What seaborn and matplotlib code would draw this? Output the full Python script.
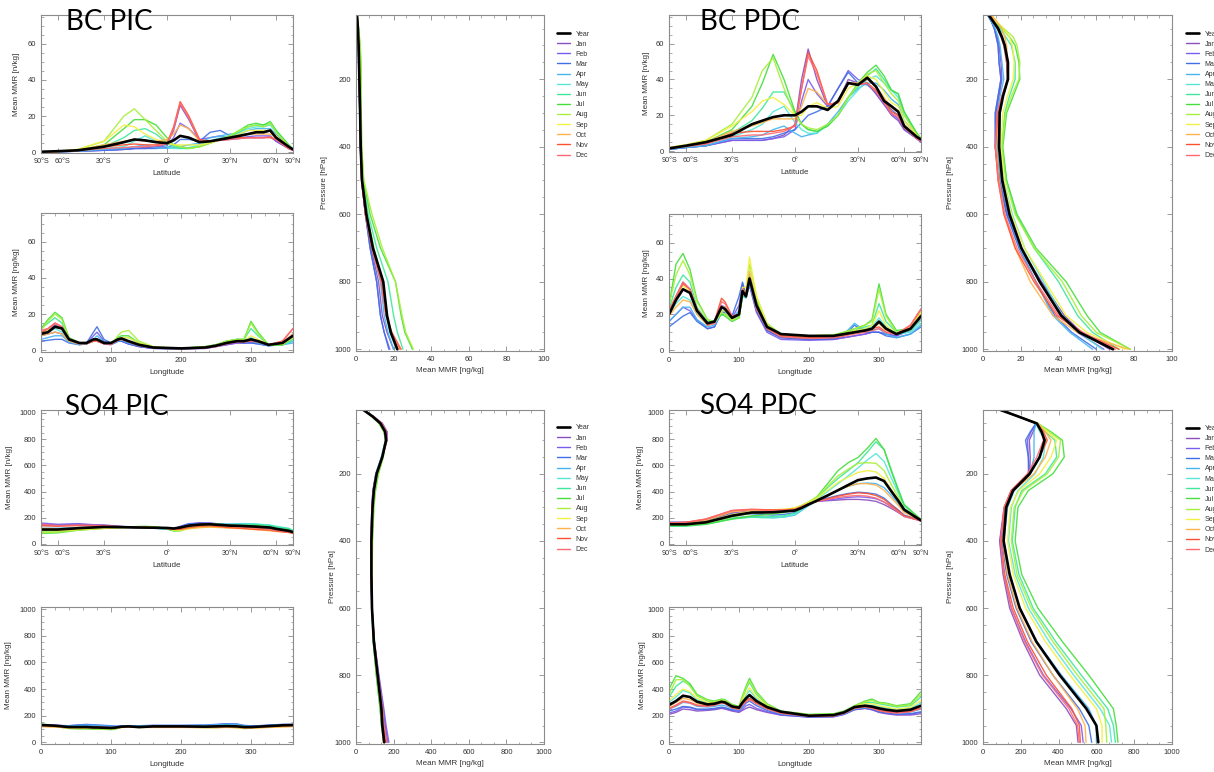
import numpy as np
import pandas as pd
import matplotlib
matplotlib.use("Agg")
import matplotlib.pyplot as plt
import seaborn as sns
from matplotlib.lines import Line2D
from matplotlib.ticker import MultipleLocator, FixedLocator, NullLocator
from matplotlib.transforms import ScaledTranslation

sns.set_theme(style="ticks")
plt.rcParams["font.family"] = ["Liberation Sans", "DejaVu Sans"]

MONTHS = ["Jan", "Feb", "Mar", "Apr", "May", "Jun", "Jul", "Aug", "Sep", "Oct", "Nov", "Dec"]
SERIES = ["Year"] + MONTHS
PALETTE = {"Jan": "#8a4fbf", "Feb": "#7a5cf0", "Mar": "#3f6fe6", "Apr": "#45b4f2",
           "May": "#55e6d8", "Jun": "#3ee89a", "Jul": "#45de3c", "Aug": "#a8ef3a",
           "Sep": "#f2f040", "Oct": "#ffb24a", "Nov": "#ff4f2e", "Dec": "#ff6a72"}

LAT = [-90, -60, -45, -30, -20, -15, -10, -5, 0, 3, 6, 10, 15, 20, 25, 30, 35, 40, 45, 50, 55, 60, 75, 90]
LON = [0, 10, 20, 30, 40, 55, 65, 75, 80, 90, 100, 105, 110, 115, 125, 140, 160, 200, 235, 250, 265, 280, 290, 300, 310, 325, 345, 360]
PRES = [10, 30, 50, 75, 100, 150, 200, 250, 300, 400, 500, 600, 700, 800, 900, 950, 1000]
LAT_TICKS = [-90, -60, -30, 0, 30, 60, 90]
LAT_LABELS = ["90°S", "60°S", "30°S", "0°", "30°N", "60°N", "90°N"]

# ---------------- BC PIC ----------------
bc_pic_lat = {
    "Year": [0.2,0.5,1,3,5.5,7,6.5,5.5,5,6.5,9,8,5.5,6,7,8,9,10,11,11,12,8,3,1.5],
    "Jan": [0,0.2,0.5,1,1.5,2,2.5,3,4,12,26,18,6,6,6.5,7,7.5,8,8,8,8.5,6,2,1],
    "Feb": [0,0.2,0.5,1,1.5,2,2,2.5,3.5,8,16,13,7,8,9,8,8,8.5,9,9,9,6,2,1],
    "Mar": [0,0.2,0.5,1,1.5,2,2,2,2.5,4,7,7,6,11,12,9,9,10,11,11,12,8,2.5,1],
    "Apr": [0,0.2,0.5,1.5,2,3,4,2.5,2,2.5,3,4,5,8,9,10,10,12,13,13,13,10,3,1.5],
    "May": [0,0.3,0.7,2,3,6,9,6,3,2,2,2.5,4,6,8,9,11,13,14,14,15,11,3.5,1.5],
    "Jun": [0,0.3,1,3,8,12,13,10,5,3,2,2,3,5,7,9,11,14,15,15,16,12,4,1.5],
    "Jul": [0,0.3,1,4,13,18,18,15,8,4,3,2,3,5,7,9,12,15,16,15,17,12,4,1.5],
    "Aug": [0,0.4,1.5,6,20,24,18,12,6,4,3,2,3,5,7,9,12,14,15,14,16,11,3.5,1.5],
    "Sep": [0,0.4,1.5,6,15,14,10,7,5,4,4,4,4,5,7,8,10,12,12,12,12,9,3,1.5],
    "Oct": [0,0.4,1,4,6,7,6,6,7,10,15,13,6,6,7,8,9,10,10,10,10,8,2.5,1.5],
    "Nov": [0,0.3,1,3,4,4.5,4,4,5,14,28,20,7,6,7,8,8,8,8,8,8,7,2,1],
    "Dec": [0,0.3,0.8,2,2.5,3,3,3.5,4.5,13,27,19,6,6,6.5,7,7.5,8,8,8,8.5,7,2,1],
}
bc_pic_lon = {
    "Year": [9,10,13,12,6,4,4,6,6,4,4,5,6,6.5,5,3,1.5,1,1.5,2.5,4,5,5,6,5,3,4,8],
    "Jan": [10,11,14,12,5,3.5,3.5,5,5,3.5,3,4,5,5,3.5,2,1,0.8,1,2,3,4,4,4.5,4,2.5,4,9],
    "Feb": [8,9,10,9,5,3.5,3.5,8,10,5,3.5,4,5,5,3.5,2,1,0.8,1,2,3,4,4,4,3.5,2.5,3.5,7],
    "Mar": [5,5.5,6,6,4,3,4,10,13,6,4,4.5,5,5,3.5,2,1,0.8,1.2,2.5,4,4.5,4,4,3.5,2.5,3,5],
    "Apr": [6,7,8,8,4.5,3,3.5,6,8,4.5,3.5,4,5,5.5,4,2.5,1.2,0.8,1.5,3,4,5,4.5,5,4,2.5,3,4],
    "May": [8,10,12,10,5,3.5,3.5,5,6,4,3.5,4.5,5.5,6,5,3,1.5,1,1.5,3,4.5,6,5.5,7,5,3,3,5],
    "Jun": [12,15,18,15,6,4,4,5,5.5,4,4,5,6,7,7,4,1.5,1,2,3,5,6,6,12,8,3,3,6],
    "Jul": [12,17,21,18,7,4,4,5,5,4,4,5,7,8,8,4,1.5,1,2,3,5,6,6,16,10,3,3,7],
    "Aug": [11,16,20,17,6.5,4,4,5,5,4,4,5.5,8,10,11,5,2,1,2,3,5,6,6,15,9,3,3,7],
    "Sep": [9,11,13,12,6,4,4,5,5,4,4,5,6,7,7,4,1.5,1,1.5,2.5,4,5,5,8,6,3,3.5,7],
    "Oct": [8,9,10,9,5,3.5,4,5,5,4,3.5,4.5,5.5,6,5,3,1.5,1,1.5,2.5,4,5,5,6,5,3,4,9],
    "Nov": [10,12,15,13,6,4,4,5,5,4,3.5,4.5,6,6.5,5,3,1.5,1,1.5,2.5,4,5,5,6,5,3,5,12],
    "Dec": [11,12,15,13,5.5,3.5,3.5,5,5,3.5,3.5,4.5,5.5,6,4.5,2.5,1.2,0.8,1.2,2,3.5,4.5,4.5,5,4.5,3,5,12],
}
bc_pic_pres = {
    "Year": [0.5,0.8,1,1.2,1.4,1.6,1.8,2,2.2,2.5,3.2,5.5,9,14.5,16.5,18.5,22],
    "Jan": [0.4,0.7,0.9,1.1,1.3,1.5,1.7,1.9,2,2.4,3,5,8,12,14,16.5,20],
    "Feb": [0.4,0.6,0.8,1,1.2,1.4,1.6,1.8,2,2.3,3,5,7.5,11,13,15,18],
    "Mar": [0.4,0.6,0.8,1,1.2,1.4,1.6,1.8,2,2.3,3,5,7.5,11,13,15,17.5],
    "Apr": [0.5,0.7,0.9,1.1,1.3,1.5,1.7,1.9,2.1,2.4,3.1,5.2,8.5,13,15,17,20],
    "May": [0.5,0.8,1,1.3,1.5,1.8,2,2.2,2.3,2.6,3.3,5.8,9.5,14,16,18,21.5],
    "Jun": [0.6,0.9,1.2,1.5,1.8,2.2,2.4,2.5,2.6,2.8,3.6,6.5,11,17,20,22,25],
    "Jul": [0.7,1,1.4,1.8,2.2,2.6,2.8,2.8,2.8,3,4,7.5,13,21,24,26,30],
    "Aug": [0.7,1,1.4,1.8,2.2,2.6,2.8,2.8,2.8,3,4.2,8.5,14,21,24.5,26.5,30.5],
    "Sep": [0.6,0.9,1.1,1.4,1.6,1.9,2.1,2.2,2.3,2.6,3.3,5.6,9.5,14,16.5,19,23],
    "Oct": [0.5,0.8,1,1.2,1.4,1.6,1.8,2,2.2,2.5,3.1,5.2,8.5,13.5,16,19,23.5],
    "Nov": [0.4,0.7,0.9,1.1,1.3,1.5,1.7,1.9,2,2.4,3,5,8.5,13.5,16,19,24],
    "Dec": [0.4,0.7,0.9,1.1,1.3,1.5,1.7,1.9,2,2.4,3,5,8.5,13.5,16,19,23.5],
}

# ---------------- BC PDC ----------------
bc_pdc_lat = {
    "Year": [1.5,3,5,9,15,17,19,20,20,22,25,25,23,28,38,37,41,36,28,25,22,14,8,6.5],
    "Jan": [1,2,3,6,6,6,7,9,15,40,57,40,25,28,40,38,38,32,26,20,17,12,7,5],
    "Feb": [1,2,3,6,6,6,7,8,12,28,40,32,25,35,45,40,38,32,26,21,18,12,7,5],
    "Mar": [1,2,3,7,7,7,8,10,12,16,20,22,25,35,44,38,37,33,28,23,20,13,7,5.5],
    "Apr": [1,2,3,7,8,9,12,14,10,8,9,10,15,22,30,35,38,38,34,29,26,17,9,6],
    "May": [1.5,2.5,4,8,12,15,22,25,16,12,10,10,15,20,28,34,40,42,38,34,30,20,10,7],
    "Jun": [1.5,3,4.5,10,17,24,33,33,22,15,12,11,14,20,30,36,42,46,40,34,32,22,10,7],
    "Jul": [1.5,3,5,12,25,38,54,40,22,15,12,11,14,20,30,38,44,48,42,34,32,22,10,7],
    "Aug": [2,3.5,6,15,30,45,52,35,20,15,13,12,15,20,30,37,43,45,38,32,28,20,9,7],
    "Sep": [2,3.5,6,14,22,28,30,26,20,20,25,27,24,25,35,38,42,40,33,27,25,17,9,6.5],
    "Oct": [2,3,5,11,14,16,18,18,18,25,35,33,26,27,38,38,40,36,30,24,22,15,8,6],
    "Nov": [1.5,3,4,10,11,11,11,12,14,35,55,45,26,27,38,37,38,34,28,22,20,14,8,5.5],
    "Dec": [1.5,2.5,4,8,9,9,10,11,14,35,53,43,26,27,38,37,38,33,27,21,19,13,7,5.5],
}
bc_pdc_lon = {
    "Year": [20,28,34,32,22,15,16,24,23,18,20,33,30,40,25,13,9,8,8,9,10,11,12,16,12,9,12,19],
    "Jan": [20,30,38,34,22,14,15,25,24,18,20,35,30,38,22,11,7,6,6,7,8,9,10,10,9,8,12,20],
    "Feb": [16,20,24,22,17,12,13,22,22,18,25,37,30,36,21,10,6,5.5,6,7,8,9,10,10,9,8,11,17],
    "Mar": [13,16,19,21,16,12,13,21,21,19,30,38,31,37,22,11,7,6,6.5,8,14,10,10,10,8,7,9,13],
    "Apr": [16,20,24,24,17,13,14,21,22,18,22,34,30,37,23,12,8,7,7,9,15,11,11,12,9,7,9,14],
    "May": [20,26,30,28,20,14,15,20,20,17,19,30,29,39,25,13,9,8,8,9,11,12,13,18,13,9,10,15],
    "Jun": [23,35,42,38,24,16,16,20,20,17,18,30,30,41,27,14,9,8,8,10,11,13,14,26,16,10,11,17],
    "Jul": [25,48,54,45,28,17,16,20,19,16,18,31,31,42,28,14,9,8,8.5,10,12,14,17,37,20,11,12,20],
    "Aug": [25,42,50,42,27,17,16,21,20,17,18,32,33,48,30,15,9,8,8.5,10,12,14,16,34,19,10,12,22],
    "Sep": [22,30,36,33,23,15,15,22,22,17,20,35,35,52,30,14,8,7.5,8,9,11,12,14,22,14,9,12,21],
    "Oct": [19,24,28,27,20,14,15,24,24,18,20,34,32,44,26,13,8,7.5,7.5,9,10,11,12,15,11,9,13,20],
    "Nov": [22,30,37,34,23,15,16,29,27,19,20,34,31,40,24,12,8,7,7,8,10,11,12,13,10,9,14,23],
    "Dec": [22,30,38,34,22,14,15,27,26,19,20,34,30,39,23,12,7.5,6.5,7,8,9,10,11,12,10,9,14,23],
}
bc_pdc_pres = {
    "Year": [3,5.5,8,10,11.5,13.2,13.2,10.6,8.8,8.5,10.2,14,20.3,30,41.4,51,68.8],
    "Jan": [2.5,4.5,6,7.5,8.5,9.5,10,8.5,7,7,9,13,20,31,43,52,67],
    "Feb": [2.5,4.5,6,7,8,8.5,9.5,8,6.5,6.5,8.5,12.5,19.5,30,41,50,64],
    "Mar": [2.5,4.5,6,7,8,8.5,9.5,8,6.5,6.5,8.5,12.5,19,28,38,47,60],
    "Apr": [2.5,4.5,6.5,8,9,10,11,9,7.5,7.5,9.5,13.5,19.5,28,37,46,58],
    "May": [3,5.5,7.5,9.5,11,12.5,13,10.5,9,9,11,15.5,22,32,42,51,63],
    "Jun": [3.5,6,9,12,15,17,17,14,11.5,10,12.5,17.5,27,40,50,58,72],
    "Jul": [3.5,6.5,10,14,17,19,19.5,16,12.5,10.5,12.5,18,28,44,55,62,78],
    "Aug": [4,7,11,16,18,19.5,19,15,12,10,12,17,27,42,52,60,78],
    "Sep": [4,7,10.5,14,15.5,16.5,16,13,10.5,9.5,11,15,22,33,44,55,75],
    "Oct": [4.5,7.5,10,11.5,12.5,13,13,10.5,8.5,7,8.5,11.5,17,25,37,50,77],
    "Nov": [3.5,6,8,10,11.5,12.5,13,10,8,6.5,8,11,17,27,39,52,72],
    "Dec": [3,5.5,7.5,9.5,11,12.5,13.5,10,7.5,6.5,8,11.5,18,28,40,53,70],
}

# ---------------- SO4 PIC ----------------
so4_pic_lat = {
    "Year": [110,110,120,130,128,126,125,124,122,118,125,140,148,150,145,140,138,135,132,128,125,115,100,90],
    "Jan": [150,145,150,145,132,128,126,124,118,115,130,150,160,158,150,140,135,130,125,120,115,110,95,85],
    "Feb": [160,150,155,140,132,128,125,122,118,115,135,155,160,160,152,145,140,135,130,125,120,112,100,90],
    "Mar": [140,140,145,135,130,128,125,120,115,112,130,152,158,155,150,148,145,142,138,132,128,120,108,95],
    "Apr": [120,120,125,128,126,125,123,118,112,108,122,145,150,150,150,152,155,155,150,145,140,130,115,100],
    "May": [100,105,115,125,126,126,125,120,112,105,115,140,148,148,148,150,152,155,152,148,145,135,120,105],
    "Jun": [90,95,110,122,126,128,128,125,115,100,105,130,145,150,148,145,145,148,148,145,140,130,115,100],
    "Jul": [80,85,105,120,128,132,135,130,118,100,100,125,145,155,150,145,140,140,140,135,130,120,108,95],
    "Aug": [85,90,105,118,126,130,132,128,118,102,100,118,135,140,135,130,128,125,122,118,115,108,98,90],
    "Sep": [100,100,110,120,125,127,128,125,118,108,105,115,125,130,128,125,122,118,115,110,105,98,90,85],
    "Oct": [120,115,120,125,126,126,126,124,118,112,110,118,125,128,125,120,118,115,110,105,100,95,88,80],
    "Nov": [140,135,140,135,128,126,125,123,118,112,112,125,135,138,132,125,120,115,110,108,105,98,88,82],
    "Dec": [150,140,145,140,130,127,125,123,118,114,120,140,150,150,142,135,130,125,120,115,110,102,90,85],
}
so4_pic_lon = {
    "Year": [130,128,125,120,115,115,115,112,112,110,108,110,114,118,120,115,120,120,118,120,122,120,115,115,118,122,128,130],
    "Jan": [130,130,128,125,122,125,128,125,125,122,120,118,118,120,122,120,124,124,125,128,132,130,122,120,122,126,132,132],
    "Feb": [132,130,128,126,125,130,132,130,128,125,122,120,120,122,124,122,126,126,128,132,138,135,125,122,124,128,134,134],
    "Mar": [130,128,128,126,125,132,135,132,130,128,125,122,120,122,125,125,128,128,130,135,140,138,128,124,125,130,135,135],
    "Apr": [128,126,125,124,122,128,130,128,126,124,122,120,120,122,124,124,126,126,128,132,136,134,126,122,122,126,132,132],
    "May": [130,128,124,120,115,115,115,112,110,108,106,108,112,118,120,118,120,120,120,124,128,125,118,116,118,122,128,130],
    "Jun": [135,130,124,115,106,104,104,102,100,100,98,100,108,116,118,114,116,116,114,116,120,118,106,108,114,120,126,132],
    "Jul": [138,132,124,112,104,102,102,100,98,98,96,98,106,115,118,112,114,114,112,112,115,112,104,106,112,120,126,134],
    "Aug": [135,130,122,112,105,103,103,101,100,99,98,100,108,116,118,113,114,114,112,112,114,112,105,106,112,118,125,132],
    "Sep": [122,120,118,114,110,108,108,106,106,105,104,106,110,114,116,112,114,114,112,112,114,112,108,108,110,114,118,122],
    "Oct": [118,116,114,112,108,108,108,106,106,105,104,106,108,112,114,112,112,112,110,110,112,110,106,106,108,112,116,118],
    "Nov": [125,124,122,118,114,114,115,113,112,110,108,110,112,116,118,115,118,118,116,118,120,118,112,112,115,120,125,126],
    "Dec": [128,127,125,120,116,117,118,116,115,113,110,112,114,118,120,116,120,120,118,122,125,122,115,114,118,122,128,130],
}
so4_pic_pres = {
    "Year": [40,90,130,155,160,140,110,95,88,82,82,85,95,115,135,140,150],
    "Jan": [40,95,140,165,165,140,108,92,85,80,80,85,98,120,145,155,170],
    "Feb": [40,95,140,165,165,138,106,90,84,80,80,85,98,122,148,160,175],
    "Mar": [40,92,135,160,162,136,105,90,84,80,80,84,96,118,142,152,165],
    "Apr": [40,90,130,155,158,135,106,92,86,81,81,84,94,114,136,145,155],
    "May": [40,88,128,152,156,136,110,96,88,82,82,84,92,110,130,138,150],
    "Jun": [40,86,125,150,156,140,115,100,92,85,84,85,92,108,128,135,148],
    "Jul": [40,85,122,148,158,145,120,104,95,88,86,86,92,108,128,136,150],
    "Aug": [40,86,124,150,158,144,118,102,94,87,85,86,93,110,130,138,152],
    "Sep": [40,88,128,152,158,140,112,97,90,84,83,85,95,112,132,138,148],
    "Oct": [40,90,130,155,160,140,110,95,88,82,82,85,95,113,132,138,145],
    "Nov": [40,92,135,160,162,140,108,93,86,81,81,85,96,116,138,145,158],
    "Dec": [40,94,138,162,164,140,108,92,85,80,80,85,97,118,142,150,165],
}

# ---------------- SO4 PDC ----------------
so4_pdc_lat = {
    "Year": [150,150,165,215,240,240,242,248,255,275,300,330,370,410,450,487,500,507,480,400,330,262,200,180],
    "Jan": [165,165,180,240,250,248,250,255,265,290,310,325,330,335,340,340,335,325,300,270,240,210,185,175],
    "Feb": [165,165,180,235,245,245,245,250,260,285,305,325,335,345,355,360,355,345,320,285,250,215,190,175],
    "Mar": [160,160,175,225,230,225,220,225,240,270,300,330,350,370,385,395,390,380,350,300,260,220,190,178],
    "Apr": [150,150,165,200,210,205,200,205,220,255,290,330,370,410,440,460,465,460,430,370,310,250,200,180],
    "May": [140,140,155,195,205,200,200,205,225,260,295,340,400,460,520,580,640,690,630,500,390,290,210,185],
    "Jun": [135,135,150,190,205,205,210,215,235,270,300,350,430,500,560,620,700,780,720,560,420,300,215,185],
    "Jul": [140,140,150,190,215,220,230,240,260,285,310,360,460,560,620,660,730,805,720,550,410,300,215,185],
    "Aug": [145,145,160,205,235,240,250,260,275,295,320,360,440,520,570,615,620,615,560,450,360,270,205,182],
    "Sep": [150,150,170,225,250,255,260,265,275,290,315,350,410,470,510,545,560,550,500,410,340,260,200,180],
    "Oct": [155,160,180,245,260,260,260,262,268,285,305,335,370,410,440,460,460,450,410,350,295,240,195,178],
    "Nov": [160,165,190,255,265,262,260,260,265,285,305,325,345,365,380,390,385,370,340,295,255,215,188,175],
    "Dec": [160,165,190,255,262,258,255,256,262,283,305,325,340,355,365,370,365,350,320,280,245,210,185,175],
}
so4_pdc_lon = {
    "Year": [280,310,350,340,305,285,290,305,300,270,260,300,330,355,310,265,230,200,205,225,265,275,268,255,245,235,245,275],
    "Jan": [210,225,250,245,235,240,245,255,250,235,225,240,255,265,245,225,205,190,192,210,245,255,245,225,215,205,205,215],
    "Feb": [220,235,265,260,245,245,250,260,255,240,230,250,275,285,255,230,205,190,192,210,245,255,245,228,218,210,212,225],
    "Mar": [235,250,270,265,250,250,255,265,260,245,240,265,295,310,275,240,210,192,195,212,248,258,248,232,222,212,215,230],
    "Apr": [250,270,300,295,270,265,270,280,275,255,245,280,310,330,290,250,215,195,198,215,252,262,255,242,232,222,228,250],
    "May": [300,340,390,370,320,295,295,310,305,275,260,310,350,390,330,270,225,202,205,225,262,280,278,268,258,245,255,295],
    "Jun": [340,420,460,430,350,310,300,315,310,280,265,330,400,450,360,280,230,205,210,230,270,300,300,290,280,265,275,340],
    "Jul": [400,500,480,440,360,320,310,325,320,285,270,350,420,480,380,290,235,210,215,235,275,310,325,300,295,275,290,380],
    "Aug": [360,470,470,420,350,315,305,320,315,280,265,340,410,460,370,285,232,208,212,232,272,305,315,295,290,270,282,360],
    "Sep": [310,360,400,380,330,300,295,310,305,275,262,320,370,410,340,275,228,204,207,228,268,290,290,275,265,250,262,315],
    "Oct": [270,300,330,320,295,280,285,300,295,265,255,295,330,350,305,260,225,200,203,222,262,272,265,250,240,230,240,270],
    "Nov": [255,280,310,300,280,275,280,300,295,260,250,285,310,330,295,255,220,198,200,220,258,268,258,240,230,222,232,258],
    "Dec": [250,275,305,295,275,270,278,295,290,258,248,280,305,320,290,250,218,196,198,218,255,265,255,238,228,220,230,255],
}
so4_pdc_pres = {
    "Year": [93,190,285,310,326,300,247,159,123,109,141,194,282,406,547,600,610],
    "Jan": [93,190,280,265,245,250,247,150,112,88,106,141,212,300,441,494,503],
    "Feb": [93,190,280,255,235,240,240,150,115,90,110,150,225,320,465,520,530],
    "Mar": [93,190,280,250,225,240,245,160,120,100,125,175,255,370,510,560,575],
    "Apr": [93,190,280,270,270,270,250,165,130,110,140,195,285,415,560,600,600],
    "May": [93,190,280,300,330,320,275,185,150,135,170,240,350,480,620,670,680],
    "Jun": [93,190,285,330,380,390,330,205,170,155,190,265,385,520,660,690,700],
    "Jul": [93,190,290,360,420,430,370,240,185,170,205,290,420,560,690,705,714],
    "Aug": [93,190,290,350,410,400,340,215,165,150,180,255,370,500,640,650,655],
    "Sep": [93,190,290,340,390,360,300,190,145,130,160,225,330,460,600,630,630],
    "Oct": [93,190,290,330,360,330,270,160,120,105,130,180,260,370,500,540,545],
    "Nov": [93,190,285,320,340,300,245,150,112,95,115,160,235,335,470,510,515],
    "Dec": [93,190,285,310,320,285,235,148,112,93,110,150,220,315,455,500,510],
}

W, H = 1214, 772
fig = plt.figure(figsize=(W / 100, H / 100), dpi=100)

SPINE = "#8c8c8c"
TICKC = "#333333"
MLW = 1.0


def add_ax(x0, y0, x1, y1):
    return fig.add_axes([x0 / W, 1 - y1 / H, (x1 - x0) / W, (y1 - y0) / H])


def to_long(coord, data):
    rows = []
    for s in SERIES:
        for c, v in zip(coord, data[s]):
            rows.append((c, v, s))
    return pd.DataFrame(rows, columns=["coord", "value", "series"])


def style(ax):
    for sp in ax.spines.values():
        sp.set_color(SPINE)
        sp.set_linewidth(0.8)
    ax.tick_params(which="both", direction="in", top=True, right=True,
                   color=SPINE, labelcolor=TICKC, labelsize=5.5, pad=3.5)
    ax.tick_params(which="major", length=3.5, width=0.6)
    ax.tick_params(which="minor", length=1.8, width=0.5)
    ax.set_facecolor("white")


def draw(ax, coord, data, vertical):
    df = to_long(coord, data)
    mdf = df[df.series != "Year"]
    ydf = df[df.series == "Year"]
    if vertical:
        sns.lineplot(data=mdf, x="value", y="coord", hue="series", hue_order=MONTHS,
                     palette=PALETTE, estimator=None, orient="y", linewidth=MLW,
                     alpha=0.9, ax=ax, legend=False)
        sns.lineplot(data=ydf, x="value", y="coord", color="black", estimator=None,
                     orient="y", linewidth=1.9, ax=ax, legend=False)
    else:
        sns.lineplot(data=mdf, x="coord", y="value", hue="series", hue_order=MONTHS,
                     palette=PALETTE, estimator=None, linewidth=MLW, alpha=0.9,
                     ax=ax, legend=False)
        sns.lineplot(data=ydf, x="coord", y="value", color="black", estimator=None,
                     linewidth=1.9, ax=ax, legend=False)


def fwd(x):
    return np.sin(np.deg2rad(np.clip(x, -90, 90)))


def inv(y):
    return np.rad2deg(np.arcsin(np.clip(y, -1, 1)))


groups = [
    dict(title="BC PIC", tpos=(66, 30), lat=(41, 15, 293, 153), lon=(41, 213, 293, 352),
         pres=(356, 15, 544, 351), leg=(557, 30.5), d=(bc_pic_lat, bc_pic_lon, bc_pic_pres),
         kind="BC", ylx=(20.5, 20.5, 327.5)),
    dict(title="BC PDC", tpos=(700, 30), lat=(669, 15, 921, 152), lon=(669, 214, 921, 352),
         pres=(983, 15, 1172, 351), leg=(1186, 30.5), d=(bc_pdc_lat, bc_pdc_lon, bc_pdc_pres),
         kind="BC", ylx=(650.5, 650.5, 953.5)),
    dict(title="SO4 PIC", tpos=(65, 415), lat=(41, 410, 293, 545), lon=(41, 607, 293, 744),
         pres=(356, 410, 544, 744), leg=(557, 424.5), d=(so4_pic_lat, so4_pic_lon, so4_pic_pres),
         kind="SO4", ylx=(13, 12.5, 335.5)),
    dict(title="SO4 PDC", tpos=(700, 414), lat=(669, 410, 921, 545), lon=(669, 607, 921, 744),
         pres=(983, 410, 1172, 744), leg=(1186, 425), d=(so4_pdc_lat, so4_pdc_lon, so4_pdc_pres),
         kind="SO4", ylx=(643.5, 645.5, 953.5)),
]

LBL = 5.8

for g in groups:
    lat_d, lon_d, pres_d = g["d"]
    bc = g["kind"] == "BC"

    # latitude panel
    box = g["lat"]
    ax = add_ax(*box)
    draw(ax, LAT, lat_d, False)
    ax.set_xscale("function", functions=(fwd, inv))
    ax.set_xlim(-90, 90)
    ax.xaxis.set_major_locator(FixedLocator(LAT_TICKS))
    ax.set_xticklabels(LAT_LABELS)
    ax.xaxis.set_minor_locator(NullLocator())
    if bc:
        ax.set_ylim(-0.5, 76)
        ax.yaxis.set_major_locator(MultipleLocator(20))
        ax.yaxis.set_minor_locator(MultipleLocator(5))
    else:
        ax.set_ylim(-8, 1022)
        ax.yaxis.set_major_locator(MultipleLocator(200))
        ax.yaxis.set_minor_locator(MultipleLocator(50))
    style(ax)
    ax.tick_params(axis="x", labelsize=5.2)
    # nudge the crowded 60-degree labels slightly inward, as in the reference
    for lab, dx in zip(ax.get_xticklabels(), [0, 5, 0, 0, 0, -5, 0]):
        if dx:
            lab.set_transform(lab.get_transform() + ScaledTranslation(dx / 100, 0, fig.dpi_scale_trans))
    ax.set_xlabel("Latitude", fontsize=LBL, color=TICKC)
    ax.set_ylabel("Mean MMR [n/kg]", fontsize=LBL, color=TICKC)
    hpx = box[3] - box[1]
    wpx = box[2] - box[0]
    ax.xaxis.set_label_coords(0.5, -17 / hpx)
    ax.yaxis.set_label_coords((g["ylx"][0] - box[0]) / wpx, 0.5)

    # longitude panel
    box = g["lon"]
    ax = add_ax(*box)
    draw(ax, LON, lon_d, False)
    ax.set_xlim(0, 360)
    ax.xaxis.set_major_locator(MultipleLocator(100))
    ax.xaxis.set_minor_locator(MultipleLocator(20))
    if bc:
        ax.set_ylim(-1, 76)
        ax.yaxis.set_major_locator(MultipleLocator(20))
        ax.yaxis.set_minor_locator(MultipleLocator(5))
    else:
        ax.set_ylim(-12, 1015)
        ax.yaxis.set_major_locator(MultipleLocator(200))
        ax.yaxis.set_minor_locator(MultipleLocator(50))
    style(ax)
    ax.set_xlabel("Longitude", fontsize=LBL, color=TICKC)
    ax.set_ylabel("Mean MMR [ng/kg]", fontsize=LBL, color=TICKC)
    hpx = box[3] - box[1]
    wpx = box[2] - box[0]
    ax.xaxis.set_label_coords(0.5, -16.5 / hpx)
    ax.yaxis.set_label_coords((g["ylx"][1] - box[0]) / wpx, 0.5)

    # pressure panel
    box = g["pres"]
    ax = add_ax(*box)
    draw(ax, PRES, pres_d, True)
    ax.set_ylim(1005, 10)
    ax.yaxis.set_major_locator(FixedLocator([200, 400, 600, 800, 1000]))
    ax.yaxis.set_minor_locator(FixedLocator(list(range(50, 1001, 50))))
    if bc:
        ax.set_xlim(0, 100)
        ax.xaxis.set_major_locator(MultipleLocator(20))
        ax.xaxis.set_minor_locator(MultipleLocator(20 / 3))
    else:
        ax.set_xlim(0, 1000)
        ax.xaxis.set_major_locator(MultipleLocator(200))
        ax.xaxis.set_minor_locator(MultipleLocator(200 / 3))
    style(ax)
    ax.set_xlabel("Mean MMR [ng/kg]", fontsize=LBL, color=TICKC)
    ax.set_ylabel("Pressure [hPa]", fontsize=LBL, color=TICKC)
    hpx = box[3] - box[1]
    wpx = box[2] - box[0]
    ax.xaxis.set_label_coords(0.5, -16 / hpx)
    ax.yaxis.set_label_coords((g["ylx"][2] - box[0]) / wpx, 0.5)

    # legend (the right-hand legends run off the page edge, as in the reference)
    handles = [Line2D([], [], color="black", lw=1.9)] + \
              [Line2D([], [], color=PALETTE[m], lw=MLW) for m in MONTHS]
    fig.legend(handles, SERIES, loc="upper left",
               bbox_to_anchor=(g["leg"][0] / W, 1 - g["leg"][1] / H),
               frameon=False, fontsize=5, handlelength=1.9, handletextpad=0.8,
               labelspacing=0.45, borderpad=0, borderaxespad=0, labelcolor=TICKC)

    # big title
    fig.text(g["tpos"][0] / W, 1 - g["tpos"][1] / H, g["title"], fontsize=20,
             family=["Lato", "DejaVu Sans"], color="black", ha="left", va="baseline")

fig.savefig("out.png", dpi=100, facecolor="white")
